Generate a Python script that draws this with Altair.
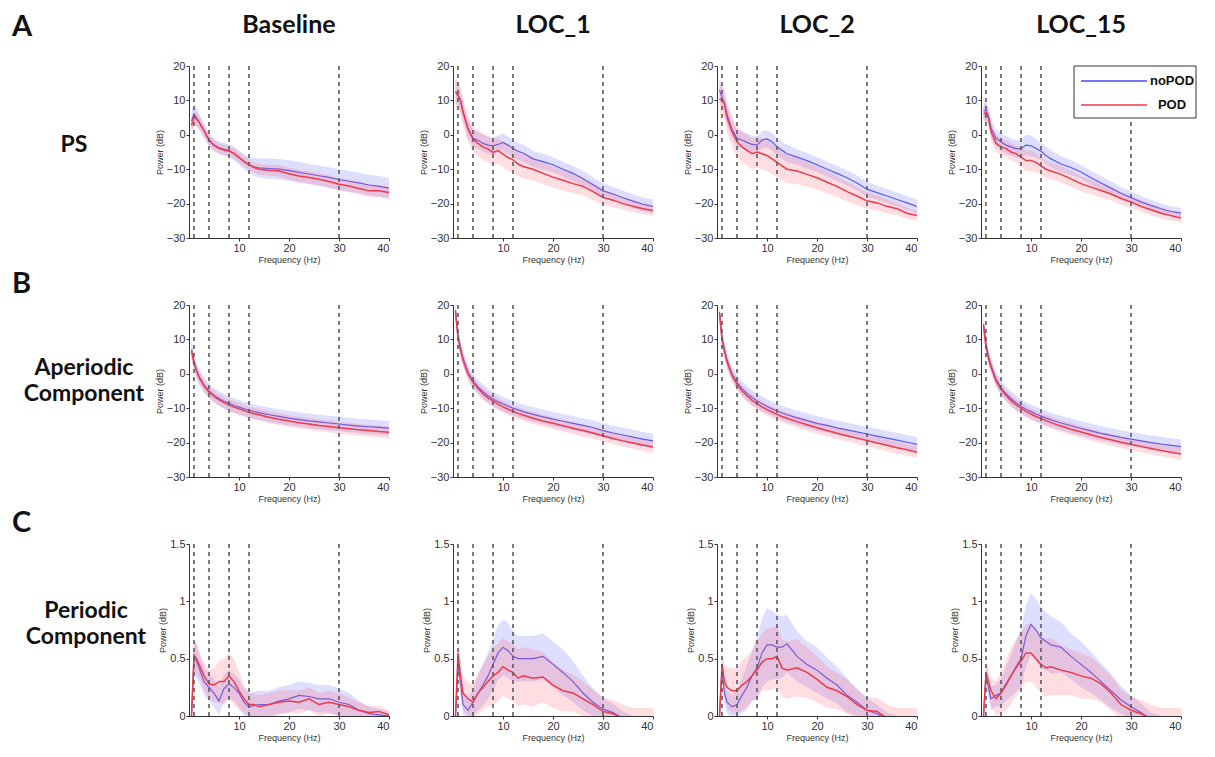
import altair as alt
import pandas as pd

# ---------------- data ----------------
F = [0.5, 1, 1.5, 2, 3, 4, 5, 6, 7, 8, 9, 10, 11, 12, 13, 14, 16, 18, 20, 22, 24, 26, 28, 30, 32, 34, 36, 38, 40]
COLUMNS = ["Baseline", "LOC_1", "LOC_2", "LOC_15"]
ROW_LETTERS = ["A", "B", "C"]
ROW_LABELS = ["PS", "Aperiodic\nComponent", "Periodic\nComponent"]
GROUPS = ["noPOD", "POD"]
BAND_EDGES = [1, 4, 8, 12, 30]
Y_TICKS_DB = [-30, -20, -10, 0, 10, 20]
Y_TICKS_PER = [0, 0.5, 1, 1.5]
X_TICKS = [10, 20, 30, 40]

# Power spectrum (dB)
PS_BASE_NOPOD = [4.0, 6.0, 5.0, 3.8, 1.2, -1.5, -3.0, -3.8, -4.2, -4.6, -5.5, -6.6, -7.8, -8.8, -9.3, -9.6, -9.8, -10.0, -10.4, -10.9, -11.4, -11.9, -12.4, -13.0, -13.5, -14.0, -14.6, -15.0, -15.5]
PS_BASE_POD = [2.7, 5.2, 4.6, 3.7, 1.2, -1.5, -3.1, -3.9, -4.4, -4.7, -5.4, -6.6, -7.7, -8.7, -9.5, -10.0, -10.3, -10.5, -11.3, -12.0, -12.4, -12.9, -13.6, -14.4, -14.9, -15.6, -16.3, -16.3, -16.8]
PS_BASE_NOPOD_SD = [3.0, 3.0, 2.8, 2.5, 2.2, 2.0, 1.8, 1.8, 1.8, 1.8, 2.0, 2.0, 2.2, 2.4, 2.6, 2.8, 3.0, 3.0, 3.0, 3.0, 3.0, 3.0, 3.0, 3.0, 3.0, 3.0, 3.0, 3.0, 3.0]
PS_BASE_POD_SD = [2.0, 2.0, 2.0, 1.8, 1.6, 1.5, 1.5, 1.5, 1.5, 1.5, 1.5, 1.5, 1.5, 1.5, 1.5, 1.6, 1.6, 1.7, 1.7, 1.8, 1.8, 1.8, 1.8, 1.8, 1.8, 1.8, 1.8, 1.8, 1.8]

PS_LOC1_NOPOD = [12.5, 11.5, 10.0, 6.8, 1.8, -1.0, -1.6, -2.5, -3.0, -3.2, -2.8, -2.2, -3.0, -4.0, -4.8, -5.3, -7.0, -7.8, -8.7, -10.0, -11.2, -12.8, -14.5, -16.3, -17.2, -18.3, -19.3, -20.2, -20.8]
PS_LOC1_POD = [12.5, 11.5, 10.0, 6.6, 1.7, -1.2, -2.5, -3.6, -4.1, -5.1, -4.6, -5.6, -6.6, -7.3, -8.5, -9.2, -10.0, -11.2, -12.3, -13.2, -14.2, -15.0, -16.5, -18.2, -19.0, -20.0, -20.8, -21.5, -22.0]
PS_LOC1_NOPOD_SD = [3.5, 3.0, 3.0, 2.8, 2.5, 2.5, 2.5, 2.5, 2.5, 2.5, 2.5, 2.5, 2.5, 2.5, 2.5, 2.5, 2.3, 2.3, 2.2, 2.2, 2.2, 2.2, 2.2, 2.2, 2.0, 2.0, 2.0, 2.0, 2.0]
PS_LOC1_POD_SD = [4.5, 4.0, 4.0, 4.0, 3.8, 3.8, 3.8, 3.8, 3.8, 3.8, 3.8, 3.8, 3.8, 3.6, 3.5, 3.5, 3.3, 3.2, 3.0, 3.0, 2.8, 2.6, 2.5, 2.3, 2.0, 1.8, 1.7, 1.6, 1.5]

PS_LOC2_NOPOD = [13.0, 11.0, 9.0, 6.0, 1.5, -1.0, -1.5, -2.2, -2.8, -3.0, -1.5, -1.2, -2.0, -3.5, -4.5, -5.5, -6.5, -7.5, -8.7, -10.0, -11.2, -12.5, -14.0, -15.8, -16.8, -17.8, -18.8, -19.8, -20.8]
PS_LOC2_POD = [10.5, 10.0, 9.0, 5.0, 1.0, -2.0, -3.5, -4.5, -5.5, -5.0, -5.5, -6.0, -7.0, -8.0, -9.0, -10.0, -10.5, -11.5, -12.5, -13.8, -15.0, -16.5, -17.8, -19.2, -19.8, -20.8, -21.5, -22.8, -23.5]
PS_LOC2_NOPOD_SD = [3.5, 3.0, 3.0, 2.8, 2.5, 2.5, 2.5, 2.5, 2.5, 2.5, 2.5, 2.5, 2.5, 2.5, 2.5, 2.5, 2.3, 2.3, 2.2, 2.2, 2.2, 2.2, 2.2, 2.2, 2.0, 2.0, 2.0, 2.0, 2.0]
PS_LOC2_POD_SD = [4.5, 4.5, 4.5, 4.5, 4.5, 4.5, 4.5, 4.5, 4.5, 4.5, 4.5, 4.5, 4.5, 4.3, 4.2, 4.0, 3.8, 3.6, 3.4, 3.2, 3.0, 2.8, 2.6, 2.4, 2.2, 2.0, 1.8, 1.6, 1.5]

PS_LOC15_NOPOD = [7.0, 7.0, 5.5, 2.0, -1.0, -2.0, -3.0, -3.5, -4.0, -4.0, -3.0, -3.2, -4.0, -4.8, -6.0, -7.0, -8.5, -9.5, -10.8, -12.5, -14.0, -15.5, -17.0, -18.3, -19.5, -20.5, -21.5, -22.3, -22.8]
PS_LOC15_POD = [6.0, 6.5, 5.0, 1.0, -2.5, -3.5, -4.0, -5.0, -5.5, -6.5, -7.5, -7.5, -8.0, -9.0, -10.0, -10.5, -11.5, -12.8, -14.2, -15.2, -16.2, -17.2, -18.5, -19.5, -20.8, -21.8, -22.8, -23.5, -24.2]
PS_LOC15_NOPOD_SD = [3.0, 3.0, 2.5, 2.5, 2.5, 2.5, 2.5, 2.5, 2.5, 2.5, 3.0, 3.0, 2.8, 2.5, 2.5, 2.5, 2.3, 2.2, 2.0, 2.0, 2.0, 2.0, 1.8, 1.8, 1.7, 1.6, 1.5, 1.5, 1.5]
PS_LOC15_POD_SD = [2.5, 2.5, 2.5, 2.5, 2.5, 2.5, 2.5, 2.5, 2.5, 2.8, 3.0, 3.0, 2.8, 2.6, 2.5, 2.5, 2.4, 2.3, 2.2, 2.1, 2.0, 1.9, 1.8, 1.7, 1.6, 1.5, 1.5, 1.4, 1.4]

# Aperiodic component (dB)
AP_BASE_NOPOD = [7.0, 3.5, 1.0, -0.8, -3.2, -5.0, -6.2, -7.2, -8.0, -8.6, -9.2, -9.7, -10.2, -10.6, -11.0, -11.3, -11.9, -12.4, -12.9, -13.3, -13.7, -14.0, -14.3, -14.6, -14.9, -15.2, -15.4, -15.6, -15.8]
AP_BASE_POD = [6.5, 3.2, 0.8, -1.0, -3.5, -5.3, -6.6, -7.6, -8.4, -9.1, -9.7, -10.2, -10.7, -11.2, -11.6, -11.9, -12.6, -13.2, -13.7, -14.2, -14.6, -15.0, -15.3, -15.7, -16.0, -16.3, -16.5, -16.8, -17.0]
AP_LOC1_NOPOD = [18.5, 11.0, 7.5, 4.5, 0.5, -2.0, -3.8, -5.2, -6.4, -7.3, -8.1, -8.8, -9.4, -10.0, -10.5, -11.0, -11.8, -12.5, -13.2, -13.8, -14.4, -15.0, -15.6, -16.5, -17.2, -17.8, -18.4, -19.0, -19.5]
AP_LOC1_POD = [18.0, 10.5, 7.0, 4.0, 0.0, -2.5, -4.3, -5.8, -7.0, -7.9, -8.8, -9.6, -10.3, -10.9, -11.5, -12.0, -12.9, -13.7, -14.4, -15.1, -15.8, -16.5, -17.2, -18.0, -18.8, -19.5, -20.1, -20.7, -21.3]
AP_LOC2_NOPOD = [18.0, 10.5, 7.0, 4.0, 0.0, -2.5, -4.3, -5.7, -6.9, -7.9, -8.7, -9.5, -10.2, -10.8, -11.4, -11.9, -12.8, -13.6, -14.4, -15.0, -15.7, -16.3, -16.9, -17.5, -18.1, -18.7, -19.3, -19.9, -20.5]
AP_LOC2_POD = [17.5, 10.0, 6.5, 3.5, -0.5, -3.0, -4.9, -6.4, -7.7, -8.7, -9.6, -10.4, -11.1, -11.8, -12.4, -12.9, -13.9, -14.8, -15.7, -16.5, -17.3, -18.0, -18.7, -19.4, -20.1, -20.8, -21.5, -22.1, -22.8]
AP_LOC15_NOPOD = [14.5, 8.5, 5.0, 2.5, -1.5, -4.0, -5.8, -7.2, -8.4, -9.4, -10.3, -11.0, -11.7, -12.3, -12.9, -13.4, -14.3, -15.1, -15.9, -16.6, -17.3, -17.9, -18.5, -19.0, -19.5, -20.0, -20.4, -20.8, -21.2]
AP_LOC15_POD = [14.0, 8.0, 4.5, 2.0, -2.0, -4.5, -6.3, -7.8, -9.0, -10.0, -10.9, -11.7, -12.4, -13.0, -13.6, -14.2, -15.2, -16.1, -16.9, -17.7, -18.5, -19.2, -19.9, -20.5, -21.1, -21.7, -22.3, -22.8, -23.3]
AP_NOPOD_SD = [2.6, 2.4, 2.3, 2.2, 2.2, 2.1, 2.1, 2.1, 2.1, 2.1, 2.1, 2.1, 2.1, 2.1, 2.1, 2.1, 2.1, 2.1, 2.1, 2.1, 2.1, 2.1, 2.1, 2.1, 2.1, 2.1, 2.1, 2.1, 2.1]
AP_POD_SD = [2.2, 2.0, 1.9, 1.8, 1.7, 1.7, 1.7, 1.7, 1.7, 1.7, 1.7, 1.7, 1.7, 1.7, 1.7, 1.7, 1.7, 1.7, 1.7, 1.7, 1.7, 1.7, 1.7, 1.7, 1.7, 1.7, 1.7, 1.7, 1.7]

# Periodic component (dB)
PE_BASE_NOPOD = [0.0, 0.50, 0.48, 0.42, 0.30, 0.25, 0.20, 0.13, 0.24, 0.28, 0.25, 0.20, 0.12, 0.08, 0.09, 0.10, 0.10, 0.13, 0.15, 0.18, 0.17, 0.15, 0.15, 0.12, 0.10, 0.05, 0.02, 0.01, 0.0]
PE_BASE_POD = [0.0, 0.53, 0.50, 0.45, 0.35, 0.28, 0.27, 0.30, 0.30, 0.35, 0.30, 0.22, 0.15, 0.10, 0.10, 0.08, 0.10, 0.12, 0.13, 0.12, 0.15, 0.10, 0.12, 0.10, 0.08, 0.05, 0.03, 0.04, 0.01]
PE_BASE_NOPOD_SD = [0.05, 0.15, 0.15, 0.13, 0.12, 0.12, 0.12, 0.12, 0.12, 0.12, 0.12, 0.12, 0.12, 0.12, 0.12, 0.12, 0.12, 0.12, 0.12, 0.12, 0.12, 0.12, 0.12, 0.12, 0.10, 0.08, 0.06, 0.05, 0.04]
PE_BASE_POD_SD = [0.05, 0.13, 0.13, 0.12, 0.12, 0.12, 0.15, 0.18, 0.20, 0.20, 0.20, 0.17, 0.12, 0.10, 0.10, 0.10, 0.10, 0.10, 0.10, 0.10, 0.10, 0.10, 0.10, 0.10, 0.08, 0.07, 0.06, 0.05, 0.04]

PE_LOC1_NOPOD = [0.0, 0.45, 0.30, 0.10, 0.05, 0.12, 0.20, 0.27, 0.35, 0.45, 0.55, 0.60, 0.57, 0.52, 0.50, 0.50, 0.50, 0.52, 0.45, 0.38, 0.30, 0.20, 0.12, 0.06, 0.03, -0.02, -0.05, -0.05, -0.05]
PE_LOC1_POD = [0.0, 0.55, 0.35, 0.20, 0.15, 0.12, 0.20, 0.25, 0.30, 0.35, 0.38, 0.43, 0.40, 0.38, 0.33, 0.35, 0.33, 0.34, 0.27, 0.22, 0.20, 0.15, 0.10, 0.04, 0.02, -0.02, -0.05, -0.05, -0.05]
PE_LOC1_NOPOD_SD = [0.05, 0.12, 0.12, 0.10, 0.10, 0.12, 0.15, 0.18, 0.20, 0.22, 0.24, 0.24, 0.24, 0.22, 0.20, 0.20, 0.20, 0.20, 0.20, 0.20, 0.18, 0.15, 0.12, 0.10, 0.08, 0.06, 0.05, 0.05, 0.05]
PE_LOC1_POD_SD = [0.05, 0.12, 0.15, 0.15, 0.15, 0.15, 0.18, 0.20, 0.22, 0.25, 0.25, 0.25, 0.25, 0.25, 0.25, 0.25, 0.25, 0.22, 0.20, 0.18, 0.16, 0.15, 0.13, 0.12, 0.12, 0.12, 0.12, 0.12, 0.12]

PE_LOC2_NOPOD = [0.0, 0.40, 0.20, 0.12, 0.08, 0.10, 0.18, 0.25, 0.35, 0.42, 0.55, 0.62, 0.62, 0.60, 0.60, 0.63, 0.52, 0.45, 0.40, 0.33, 0.27, 0.18, 0.12, 0.05, 0.02, -0.03, -0.05, -0.05, -0.05]
PE_LOC2_POD = [0.0, 0.45, 0.30, 0.25, 0.22, 0.22, 0.27, 0.30, 0.35, 0.40, 0.47, 0.50, 0.50, 0.52, 0.42, 0.40, 0.42, 0.38, 0.32, 0.25, 0.22, 0.17, 0.10, 0.05, 0.04, -0.02, -0.05, -0.05, -0.05]
PE_LOC2_NOPOD_SD = [0.05, 0.10, 0.10, 0.10, 0.10, 0.12, 0.15, 0.20, 0.22, 0.27, 0.30, 0.32, 0.30, 0.28, 0.27, 0.25, 0.22, 0.20, 0.20, 0.18, 0.16, 0.15, 0.12, 0.10, 0.08, 0.06, 0.05, 0.05, 0.05]
PE_LOC2_POD_SD = [0.05, 0.12, 0.15, 0.18, 0.20, 0.20, 0.22, 0.22, 0.22, 0.25, 0.25, 0.27, 0.27, 0.27, 0.25, 0.25, 0.25, 0.22, 0.20, 0.18, 0.16, 0.15, 0.13, 0.12, 0.12, 0.12, 0.12, 0.12, 0.12]

PE_LOC15_NOPOD = [0.0, 0.35, 0.25, 0.15, 0.18, 0.20, 0.28, 0.35, 0.43, 0.50, 0.70, 0.80, 0.75, 0.68, 0.65, 0.62, 0.60, 0.52, 0.45, 0.38, 0.30, 0.22, 0.14, 0.08, 0.03, -0.03, -0.05, -0.05, -0.05]
PE_LOC15_POD = [0.0, 0.38, 0.30, 0.22, 0.15, 0.20, 0.27, 0.35, 0.42, 0.48, 0.55, 0.55, 0.50, 0.45, 0.42, 0.43, 0.40, 0.38, 0.35, 0.33, 0.28, 0.20, 0.10, 0.05, 0.02, -0.02, -0.05, -0.05, -0.05]
PE_LOC15_NOPOD_SD = [0.05, 0.10, 0.10, 0.10, 0.10, 0.12, 0.15, 0.18, 0.22, 0.25, 0.27, 0.27, 0.27, 0.27, 0.25, 0.25, 0.22, 0.20, 0.20, 0.18, 0.16, 0.15, 0.12, 0.10, 0.08, 0.06, 0.05, 0.05, 0.05]
PE_LOC15_POD_SD = [0.05, 0.10, 0.12, 0.12, 0.15, 0.18, 0.22, 0.25, 0.25, 0.25, 0.25, 0.25, 0.25, 0.25, 0.25, 0.25, 0.22, 0.20, 0.20, 0.18, 0.16, 0.15, 0.13, 0.12, 0.12, 0.12, 0.12, 0.12, 0.12]

PANELS = [
    [(PS_BASE_NOPOD, PS_BASE_NOPOD_SD, PS_BASE_POD, PS_BASE_POD_SD),
     (PS_LOC1_NOPOD, PS_LOC1_NOPOD_SD, PS_LOC1_POD, PS_LOC1_POD_SD),
     (PS_LOC2_NOPOD, PS_LOC2_NOPOD_SD, PS_LOC2_POD, PS_LOC2_POD_SD),
     (PS_LOC15_NOPOD, PS_LOC15_NOPOD_SD, PS_LOC15_POD, PS_LOC15_POD_SD)],
    [(AP_BASE_NOPOD, AP_NOPOD_SD, AP_BASE_POD, AP_POD_SD),
     (AP_LOC1_NOPOD, AP_NOPOD_SD, AP_LOC1_POD, AP_POD_SD),
     (AP_LOC2_NOPOD, AP_NOPOD_SD, AP_LOC2_POD, AP_POD_SD),
     (AP_LOC15_NOPOD, AP_NOPOD_SD, AP_LOC15_POD, AP_POD_SD)],
    [(PE_BASE_NOPOD, PE_BASE_NOPOD_SD, PE_BASE_POD, PE_BASE_POD_SD),
     (PE_LOC1_NOPOD, PE_LOC1_NOPOD_SD, PE_LOC1_POD, PE_LOC1_POD_SD),
     (PE_LOC2_NOPOD, PE_LOC2_NOPOD_SD, PE_LOC2_POD, PE_LOC2_POD_SD),
     (PE_LOC15_NOPOD, PE_LOC15_NOPOD_SD, PE_LOC15_POD, PE_LOC15_POD_SD)],
]

# ---------------- style ----------------
BLUE = "#4b4bf2"
RED = "#f03a4a"
BLUE_FILL = "#5a5aff"
RED_FILL = "#ff5565"
W, H = 200, 172
LABEL_W = 117
FONT = "Liberation Sans"
HEAD_FONT = "Lato"


def make_panel(r, c):
    nm, ns, pm, psd = PANELS[r][c]
    recs = []
    for g, m, s in (("noPOD", nm, ns), ("POD", pm, psd)):
        for f, mv, sv in zip(F, m, s):
            recs.append({"f": f, "g": g, "mean": mv, "lo": mv - sv, "hi": mv + sv})
    df = pd.DataFrame(recs)
    ydom = [0, 1.5] if r == 2 else [-30, 20]
    xs = alt.Scale(domain=[0, 40], nice=False, zero=False)
    ys = alt.Scale(domain=ydom, nice=False, zero=False)
    xax = alt.Axis(values=X_TICKS, title="Frequency (Hz)")
    if r == 2:
        yax = alt.Axis(values=Y_TICKS_PER, title="Power (dB)", format="~r")
    else:
        yax = alt.Axis(values=Y_TICKS_DB, title="Power (dB)")
    X = alt.X("f:Q", scale=xs, axis=xax)

    def band(g, color):
        return alt.Chart(df).transform_filter(alt.datum.g == g).mark_area(
            color=color, opacity=0.2, clip=True
        ).encode(x=X, y=alt.Y("lo:Q", scale=ys, axis=yax), y2="hi:Q")

    def line(g, color, w, op):
        return alt.Chart(df).transform_filter(alt.datum.g == g).mark_line(
            color=color, strokeWidth=w, opacity=op, clip=True
        ).encode(x=X, y=alt.Y("mean:Q", scale=ys, axis=yax))

    rules = alt.Chart(pd.DataFrame({"f": BAND_EDGES})).mark_rule(
        color="#5a5a5a", strokeDash=[4, 4], strokeWidth=1.6
    ).encode(x=X)

    layers = [band("noPOD", BLUE_FILL), line("noPOD", BLUE, 1.2, 0.9),
              band("POD", RED_FILL), line("POD", RED, 1.5, 1.0), rules]

    if r == 0:
        layers.append(
            alt.Chart(pd.DataFrame({"t": [COLUMNS[c]]})).mark_text(
                font=HEAD_FONT, fontSize=25, fontWeight="bold", baseline="alphabetic",
                align="center", color="#111"
            ).encode(text="t:N", x=alt.value(W / 2), y=alt.value(-33))
        )
    if r == 0 and c == 3:
        layers.append(
            alt.Chart(pd.DataFrame({"k": [0]})).mark_rect(
                fill="white", stroke="#333", strokeWidth=1
            ).encode(x=alt.value(93), x2=alt.value(215), y=alt.value(0), y2=alt.value(52))
        )
        for i, (g, col) in enumerate(zip(GROUPS, [BLUE, RED])):
            yy = 15 + 24 * i
            layers.append(
                alt.Chart(pd.DataFrame({"g": [g]})).mark_rule(color=col, strokeWidth=1.5).encode(
                    x=alt.value(100), x2=alt.value(166), y=alt.value(yy))
            )
            layers.append(
                alt.Chart(pd.DataFrame({"g": [g]})).mark_text(
                    font=FONT, fontSize=13, fontWeight="bold", align="center", baseline="middle",
                    color="#111"
                ).encode(text="g:N", x=alt.value(191), y=alt.value(yy))
            )
    return alt.layer(*layers).properties(width=W, height=H)


LETTER_Y = [-30, -12, -12]
NAME_X = [66, 76, 78]
NAME_Y = [79, 63, 67]


def label_chart(r):
    letter = alt.Chart(pd.DataFrame({"t": [ROW_LETTERS[r]]})).mark_text(
        font=HEAD_FONT, fontSize=29, fontWeight="bold", align="left", baseline="alphabetic",
        color="#111"
    ).encode(text="t:N", x=alt.value(4), y=alt.value(LETTER_Y[r]))
    name = alt.Chart(pd.DataFrame({"t": [ROW_LABELS[r]]})).mark_text(
        font=HEAD_FONT, fontSize=23, fontWeight="bold", align="center", baseline="middle",
        lineBreak="\n", lineHeight=26, color="#111"
    ).encode(text="t:N", x=alt.value(NAME_X[r]), y=alt.value(NAME_Y[r]))
    return alt.layer(letter, name).properties(width=LABEL_W, height=H)


cells = []
for r in range(3):
    cells.append(label_chart(r))
    for c in range(4):
        cells.append(make_panel(r, c))

chart = alt.concat(
    *cells, columns=5, spacing={"row": 67, "column": 64}, bounds="flush", align="each"
).properties(
    padding={"left": 0, "top": 5, "right": 5, "bottom": 5}
).configure_view(stroke=None).configure_axis(
    grid=False,
    domainColor="#333",
    tickColor="#333",
    tickSize=3,
    labelFont=FONT,
    labelFontSize=11,
    labelColor="#333",
    labelPadding=1,
    titleFont=FONT,
    titleFontSize=9,
    titleFontWeight="normal",
    titleColor="#333",
    titlePadding=2,
)

chart.save("out.html", embed_options={"renderer": "svg", "actions": False})
